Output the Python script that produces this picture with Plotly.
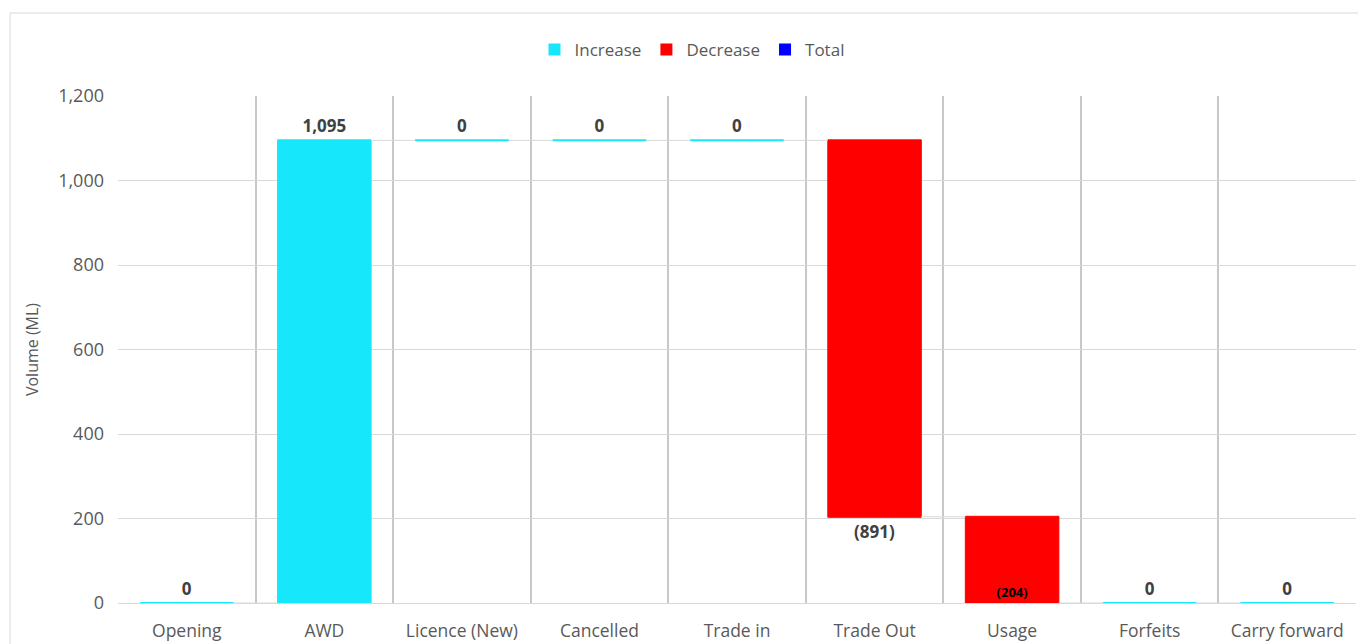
import plotly.graph_objects as go

# Water account movements (ML)
categories = ["Opening", "AWD", "Licence (New)", "Cancelled", "Trade in",
              "Trade Out", "Usage", "Forfeits", "Carry forward"]
values = [0, 1095, 0, 0, 0, -891, -204, 0, 0]
legend_names = ["Increase", "Decrease", "Total"]
legend_colors = ["#17E7FB", "#FF0000", "#0000FF"]
y_ticks = [0, 200, 400, 600, 800, 1000, 1200]


def fmt(v):
    return f"({abs(v):,})" if v < 0 else f"{v:,}"


labels = [fmt(v) for v in values]
text_pos = ["inside" if c == "Usage" else "outside" for c in categories]
text_size = [13 if c == "Usage" else 17 for c in categories]
text_color = ["#000000" if c == "Usage" else "#404040" for c in categories]

W, H = 1358, 644
ML, MR, MT, MB = 118, 2, 96, 41
GAP = 0.32

fig = go.Figure()
fig.add_trace(go.Waterfall(
    x=categories,
    y=values,
    measure=["relative"] * len(values),
    text=labels,
    textposition=text_pos,
    insidetextanchor="end",
    textfont=dict(family="Open Sans", size=text_size, color=text_color, weight="bold"),
    cliponaxis=False,
    increasing=dict(marker=dict(color=legend_colors[0], line=dict(color=legend_colors[0], width=1))),
    decreasing=dict(marker=dict(color=legend_colors[1], line=dict(color=legend_colors[1], width=1))),
    totals=dict(marker=dict(color=legend_colors[2], line=dict(color=legend_colors[2], width=1))),
    connector=dict(mode="between", line=dict(color="#D9D9D9", width=1)),
    showlegend=False,
    hoverinfo="x+y",
))

# zero-movement steps are drawn as a thin line at the running level
level = 0
for i, v in enumerate(values):
    level += v
    if v == 0:
        fig.add_shape(
            type="line", xref="x", yref="y",
            x0=i - (1 - GAP) / 2, x1=i + (1 - GAP) / 2, y0=level, y1=level,
            line=dict(color=legend_colors[0], width=2), layer="above",
        )

for name, color in zip(legend_names, legend_colors):
    fig.add_trace(go.Scatter(
        x=[None], y=[None], mode="markers", name=name,
        marker=dict(symbol="square", size=16, color=color),
    ))

pw = W - ML - MR
ph = H - MT - MB
fig.add_shape(
    type="rect", xref="paper", yref="paper",
    x0=(10 - ML) / pw, x1=(W + 5 - ML) / pw,
    y0=-(H + 5 - MT - ph) / ph, y1=1 + (MT - 13) / ph,
    line=dict(color="#D9D9D9", width=1), fillcolor="rgba(0,0,0,0)", layer="below",
)

fig.update_layout(
    width=W, height=H,
    margin=dict(l=ML, r=MR, t=MT, b=MB),
    paper_bgcolor="white", plot_bgcolor="white",
    font=dict(family="Open Sans", size=17, color="#595959"),
    waterfallgap=GAP,
    legend=dict(orientation="h", x=(692 - ML) / pw, xanchor="center",
                y=1 + (MT - 50) / ph, yanchor="middle",
                font=dict(size=17, color="#595959"), itemsizing="constant"),
    xaxis=dict(
        type="category", tickson="boundaries", showgrid=True,
        gridcolor="#C8C8C8", gridwidth=2, ticks="", showline=False,
        tickfont=dict(size=17.5, color="#595959"), ticklabelstandoff=15,
    ),
    yaxis=dict(
        range=[0, 1200], tickvals=y_ticks, tickformat=",",
        showgrid=True, gridcolor="#D9D9D9", gridwidth=1,
        zeroline=True, zerolinecolor="#D9D9D9", zerolinewidth=1,
        tickfont=dict(size=18, color="#595959"), ticklabelstandoff=13,
        title=dict(text="Volume (ML)", font=dict(size=16, color="#595959"), standoff=15),
    ),
)

fig.write_html("out.html")
